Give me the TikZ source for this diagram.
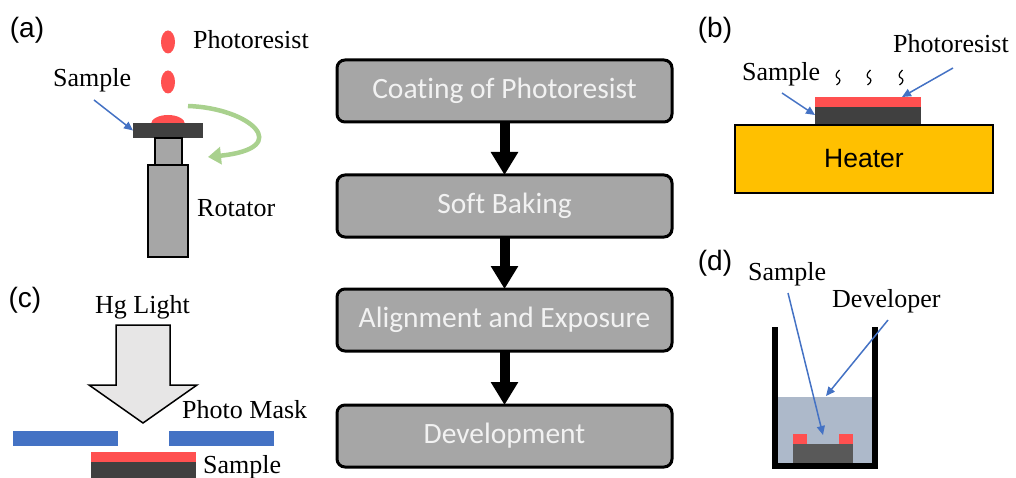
\documentclass[tikz,border=0pt]{standalone}
\usepackage{fontspec}
\setmainfont{Liberation Serif}
\newfontfamily\arialfont{Liberation Sans}
\newfontfamily\calfont[Ligatures=NoCommon]{Carlito}
\usetikzlibrary{arrows.meta,shapes.geometric}

\definecolor{resist}{HTML}{FF5050}
\definecolor{maskblue}{HTML}{4472C4}
\definecolor{spin}{HTML}{A9D18E}
\definecolor{darksub}{HTML}{404040}
\definecolor{midgray}{HTML}{A6A6A6}
\definecolor{lightgray}{HTML}{E7E6E6}
\definecolor{heater}{HTML}{FFC000}
\definecolor{liquid}{HTML}{ADB9CA}
\definecolor{subdev}{HTML}{595959}
\definecolor{boxtext}{HTML}{F2F2F2}

\tikzset{
  stepbox/.style={draw=black, line width=3pt, fill=midgray, rounded corners=8pt,
    minimum width=335pt, minimum height=62pt, inner sep=0pt, outer sep=0pt,
    text=boxtext, font=\calfont\fontsize{29.5}{34}\selectfont},
  flowarrow/.style={line width=10pt, -{Triangle[length=23pt 0,width=26pt 0]}},
  ptr/.style={maskblue, line width=1.5pt, -{Triangle[length=9pt 0,width=8pt 0]}},
  lbl/.style={inner sep=0pt, anchor=base west, font=\fontsize{26}{30}\selectfont},
  panel/.style={inner sep=0pt, font=\arialfont\fontsize{28}{32}\selectfont},
  blk/.style={inner sep=0pt, outer sep=0pt, draw=none},
  wave/.style={line width=1.2pt},
}

\begin{document}
\begin{tikzpicture}[x=1pt,y=-1pt]
\useasboundingbox (0,0) rectangle (1016,478);

% ---------- process flow ----------
\node[stepbox] (s1) at (504.5,91) {Coating of Photoresist};
\node[stepbox] (s2) at (504.5,206) {Soft Baking};
\node[stepbox] (s3) at (504.5,320) {Alignment and Exposure};
\node[stepbox] (s4) at (504.5,436) {Development};
\draw[flowarrow] (s1.south) -- (s2.north);
\draw[flowarrow] (s2.south) -- (s3.north);
\draw[flowarrow] (s3.south) -- (s4.north);

% ---------- (a) spin coating ----------
\node[panel] (pa) at (27,30) {(a)};
\node[blk, ellipse, fill=resist, minimum width=14pt, minimum height=23pt] (drop1) at (168,42) {};
\node[blk, ellipse, fill=resist, minimum width=14pt, minimum height=23pt] (drop2) at (168,82) {};
% resist puddle sitting on the chuck
\fill[resist] (151,124) arc[start angle=180, end angle=360, x radius=17, y radius=9] -- cycle;
\node[blk, fill=darksub, minimum width=70pt, minimum height=15pt] (plate) at (168,130.5) {};
\draw[line width=2pt, fill=midgray] (155,138) rectangle (182,165);
\draw[line width=2pt, fill=midgray] (148,165) rectangle (188,257);
\node[lbl] (aphr) at (193,49) {Photoresist};
\node[lbl] (asmp) at (53,87) {Sample};
\node[lbl] (arot) at (197,217) {Rotator};
\coordinate (aptr) at (94,100);
\draw[ptr] (aptr) -- (plate.west);
\coordinate (spinA) at (188,106);
\coordinate (spinB) at (208,157);
\draw[spin, line width=4.5pt, -{Triangle[length=13pt 0,width=17pt 0]}]
  (spinA) .. controls (250,108) and (295,148) .. (spinB);

% ---------- (c) exposure ----------
\node[panel] (pc) at (25,300) {(c)};
\node[lbl] (hg) at (95,313) {Hg Light};
\draw[line width=1.5pt, fill=lightgray, line join=miter]
  (116,325) -- (170,325) -- (170,385) -- (197,385) -- (143,423) -- (89,385) -- (116,385) -- cycle;
\node[lbl] (pm) at (182,418) {Photo Mask};
\fill[maskblue] (13,431) rectangle (118,446);
\fill[maskblue] (169,431) rectangle (274,446);
\fill[resist] (91,452) rectangle (196,462);
\fill[darksub] (91,462) rectangle (196,478);
\node[lbl] (csmp) at (203,473) {Sample};

% ---------- (b) soft baking ----------
\node[panel] (pb) at (715,30) {(b)};
\node[draw=black, line width=2pt, fill=heater, minimum width=258pt, minimum height=68pt,
      inner sep=0pt, outer sep=0pt, font=\arialfont\fontsize{26.5}{30}\selectfont] (heat) at (864,159) {Heater};
\fill[darksub] (815,107) rectangle (921,124);
\fill[resist] (815,97) rectangle (921,107);
\coordinate (bsub) at (815,115);
\coordinate (bres) at (902,97);
\node[lbl] (bphr) at (893,53) {Photoresist};
\node[lbl] (bsmp) at (742,81) {Sample};
\coordinate (bp1) at (782,93);
\coordinate (bp2) at (953,68);
\draw[ptr] (bp1) -- (bsub);
\draw[ptr] (bp2) -- (bres);
% rising heat
\foreach \x in {838,869,901}{
  \draw[wave] (\x+1.5,70) .. controls (\x-3,74) and (\x-2.5,77) .. (\x,78)
              .. controls (\x+2.5,79) and (\x+3,82) .. (\x-1.5,85);
}

% ---------- (d) development ----------
\node[panel] (pd) at (715,263) {(d)};
\fill[liquid] (775,397) rectangle (875,466);
\fill[subdev] (793,444) rectangle (853,466);
\fill[resist] (793,434) rectangle (807,444);
\fill[resist] (839,434) rectangle (853,444);
\draw[line width=6pt, line join=miter] (775,327) -- (775,466) -- (875,466) -- (875,327);
\node[lbl] (dsmp) at (748,280) {Sample};
\node[lbl] (ddev) at (832,307) {Developer};
\coordinate (dp1) at (788,293);
\coordinate (dt1) at (823,435);
\coordinate (dp2) at (888,320);
\coordinate (dt2) at (826,396);
\draw[ptr] (dp1) -- (dt1);
\draw[ptr] (dp2) -- (dt2);
\end{tikzpicture}
\end{document}
